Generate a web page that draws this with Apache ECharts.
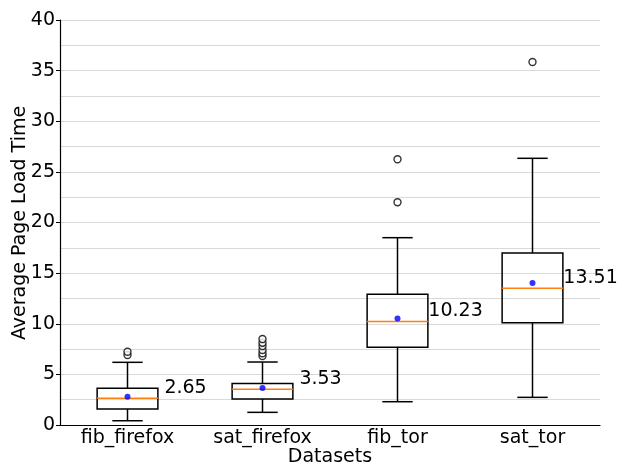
<!DOCTYPE html>
<html>
<head>
<meta charset="utf-8">
<script src="https://cdn.jsdelivr.net/npm/echarts@6/dist/echarts.min.js"></script>
<style>
  html, body { margin: 0; padding: 0; background: #fff; }
  #main { width: 618px; height: 466px; }
</style>
</head>
<body>
<div id="main"></div>
<script>
var categories = ['fib_firefox', 'sat_firefox', 'fib_tor', 'sat_tor'];
// [low whisker, Q1, median, Q3, high whisker]
var boxStats = [
    [0.42, 1.58, 2.65, 3.62, 6.19],
    [1.25, 2.57, 3.53, 4.11, 6.22],
    [2.30, 7.67, 10.23, 12.91, 18.50],
    [2.73, 10.10, 13.51, 16.99, 26.34]
];
var means = [2.80, 3.65, 10.53, 14.02];
var outliers = [
    [0, 6.91], [0, 7.24],
    [1, 6.81], [1, 7.08], [1, 7.41], [1, 7.80], [1, 8.13], [1, 8.49],
    [2, 22.0], [2, 26.24],
    [3, 35.85]
];

var myChart = echarts.init(document.getElementById('main'));
var font = 'DejaVu Sans';

var boxData = boxStats.map(function (s, i) {
    return [i].concat(s);
});

function renderBox(params, api) {
    var idx = api.value(0);
    var lo = api.coord([idx, api.value(1)]);
    var q1 = api.coord([idx, api.value(2)]);
    var med = api.coord([idx, api.value(3)]);
    var q3 = api.coord([idx, api.value(4)]);
    var hi = api.coord([idx, api.value(5)]);
    var band = api.size([1, 0])[0];
    var x = lo[0];
    var bw = band * 0.45;
    var cw = band * 0.225;
    var black = { stroke: '#000', lineWidth: 1.5, fill: null };
    return {
        type: 'group',
        children: [
            { type: 'line', shape: { x1: x, y1: lo[1], x2: x, y2: q1[1] }, style: black },
            { type: 'line', shape: { x1: x, y1: q3[1], x2: x, y2: hi[1] }, style: black },
            { type: 'line', shape: { x1: x - cw / 2, y1: lo[1], x2: x + cw / 2, y2: lo[1] }, style: black },
            { type: 'line', shape: { x1: x - cw / 2, y1: hi[1], x2: x + cw / 2, y2: hi[1] }, style: black },
            { type: 'rect', shape: { x: x - bw / 2, y: q3[1], width: bw, height: q1[1] - q3[1] }, style: black },
            { type: 'line', shape: { x1: x - bw / 2, y1: med[1], x2: x + bw / 2, y2: med[1] },
              style: { stroke: '#ff7f0e', lineWidth: 1.5 } },
            { type: 'text', x: x + band * 0.43, y: med[1] - 1,
              style: { text: api.value(3).toFixed(2), fontFamily: font, fontSize: 19,
                       fill: '#000', align: 'center', verticalAlign: 'bottom' } }
        ]
    };
}

myChart.setOption({
    animation: false,
    grid: { left: 60, right: 18, top: 20, bottom: 41, containLabel: false, outerBoundsMode: 'none' },
    graphic: [
        {
            type: 'text', x: 20, y: 223, rotation: Math.PI / 2,
            style: { text: 'Average Page Load Time', fontFamily: font, fontSize: 19, fill: '#000',
                     align: 'center', verticalAlign: 'middle' }
        },
        {
            type: 'text', x: 330, y: 457,
            style: { text: 'Datasets', fontFamily: font, fontSize: 19, fill: '#000',
                     align: 'center', verticalAlign: 'middle' }
        }
    ],
    xAxis: {
        type: 'category',
        data: categories,
        axisLine: { lineStyle: { color: '#000', width: 1.2 } },
        axisTick: { alignWithLabel: true, length: 4, lineStyle: { color: '#000' } },
        axisLabel: { fontFamily: font, fontSize: 19, color: '#000', margin: 4 },
        splitLine: { show: false }
    },
    yAxis: {
        type: 'value',
        min: 0,
        max: 40,
        interval: 5,
        axisLine: { show: true, lineStyle: { color: '#000', width: 1.2 } },
        axisTick: { show: true, length: 4, lineStyle: { color: '#000' } },
        axisLabel: { fontFamily: font, fontSize: 19, color: '#000', margin: 5 },
        splitLine: { show: true, lineStyle: { color: '#d9d9d9', width: 1 } },
        minorTick: { show: false, splitNumber: 2 },
        minorSplitLine: { show: true, lineStyle: { color: '#d9d9d9', width: 1 } }
    },
    series: [
        {
            type: 'custom',
            renderItem: renderBox,
            data: boxData,
            encode: { x: 0, y: [1, 2, 3, 4, 5] },
            z: 2
        },
        {
            type: 'scatter',
            data: outliers,
            symbol: 'circle',
            symbolSize: 7,
            itemStyle: { color: '#fff', borderColor: '#000', borderWidth: 1.4 },
            z: 3
        },
        {
            type: 'scatter',
            data: means.map(function (m, i) { return [i, m]; }),
            symbol: 'circle',
            symbolSize: 6,
            itemStyle: { color: '#0000ff' },
            z: 4
        }
    ]
});
</script>
</body>
</html>
